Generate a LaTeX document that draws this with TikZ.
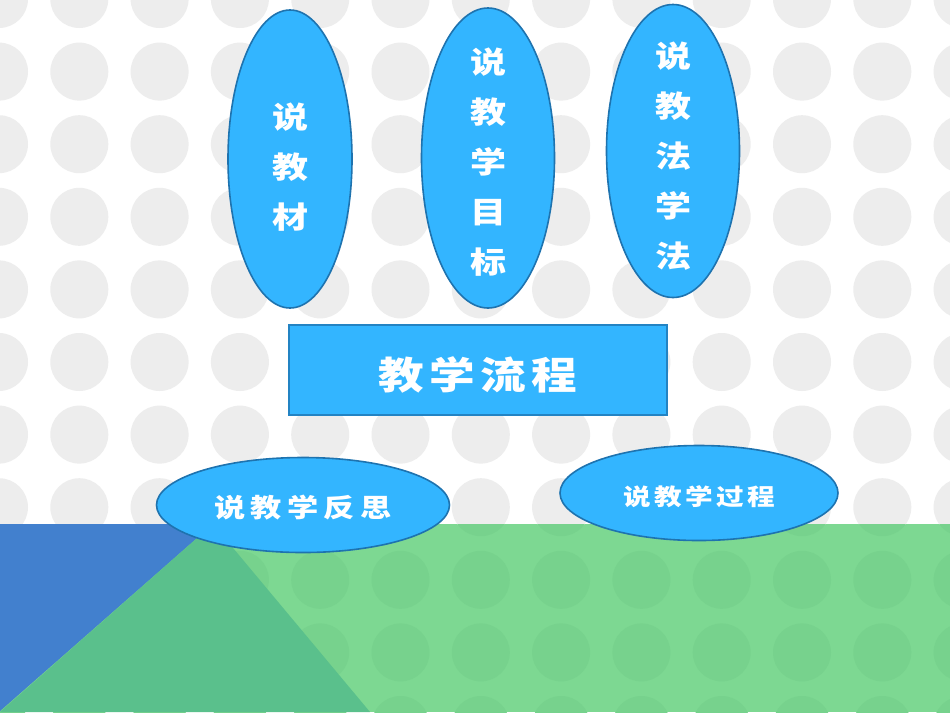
\documentclass[tikz,border=0pt]{standalone}
\usepackage{fontspec}
\usetikzlibrary{shapes.geometric}
\newfontfamily\cjk{Noto Sans CJK SC}[FakeStretch=1.2]
\definecolor{bubblefill}{RGB}{51,181,255}
\definecolor{bubbleline}{RGB}{30,115,175}
\definecolor{dotgrey}{RGB}{237,237,237}
\definecolor{dotgreen}{RGB}{119,210,141}
\definecolor{bandgreen}{RGB}{125,216,146}
\definecolor{midgreen}{RGB}{90,192,140}
\definecolor{bandblue}{RGB}{66,128,206}

\begin{document}
\begin{tikzpicture}[x=1pt,y=-1pt,
	bubble/.style={ellipse,draw=bubbleline,line width=1.6pt,fill=bubblefill,inner sep=0pt},
	word/.style={text=white,inner sep=0pt,align=center},
	vtext/.style={word,font=\cjk\bfseries\fontsize{30}{50}\selectfont}]
\useasboundingbox (0,0) rectangle (950,713);
\fill[white] (0,0) rectangle (950,713);
% band at the bottom
\fill[bandgreen] (0,524) rectangle (950,712);
\begin{scope}
	\clip (0,0) rectangle (950,524);
	\foreach \i in {0,...,12}
		\foreach \j in {0,...,10}
			\fill[dotgrey] (80.3*\i-1,72.6*\j-1) circle (29pt);
\end{scope}
\begin{scope}
	\clip (0,524) rectangle (950,712);
	\foreach \i in {0,...,12}
		\foreach \j in {0,...,10}
			\fill[dotgreen] (80.3*\i-1,72.6*\j-1) circle (29pt);
\end{scope}
\fill[bandblue] (0,524) -- (213,524) -- (0,711) -- cycle;
\fill[midgreen] (213,524) -- (0,712) -- (370,712) -- cycle;

% the five bubbles and the box
\node[bubble,minimum width=124pt,minimum height=298pt] (cai) at (290,159) {};
\node[bubble,minimum width=133pt,minimum height=300pt] (mubiao) at (488,158) {};
\node[bubble,minimum width=133pt,minimum height=293pt] (fa) at (673,151) {};
\node[draw=bubbleline!75!bubblefill,line width=1.8pt,fill=bubblefill,
	minimum width=378pt,minimum height=90pt] (liucheng) at (478,370) {};
\node[bubble,minimum width=293pt,minimum height=95pt] (fansi) at (303,505) {};
\node[bubble,minimum width=278pt,minimum height=95pt] (guocheng) at (699,493) {};

% texts
\node[vtext] (cai-t) at ([yshift=-8pt]cai.center) {说\\教\\材};
\node[vtext] (mubiao-t) at ([yshift=-4pt]mubiao.center) {说\\教\\学\\目\\标};
\node[vtext] (fa-t) at ([yshift=-5pt]fa.center) {说\\教\\法\\学\\法};
\node[word,font=\cjk\bfseries\fontsize{38}{40}\selectfont\addfontfeature{LetterSpace=14}]
	(liucheng-t) at ([yshift=-5pt]liucheng.center) {教学流程};
\node[word,font=\cjk\bfseries\fontsize{26}{30}\selectfont\addfontfeature{LetterSpace=20}]
	(fansi-t) at ([yshift=-3pt]fansi.center) {说教学反思};
\node[word,font=\cjk\bfseries\fontsize{23}{28}\selectfont\addfontfeature{LetterSpace=15}]
	(guocheng-t) at ([yshift=-4pt]guocheng.center) {说教学过程};
\end{tikzpicture}
\end{document}
